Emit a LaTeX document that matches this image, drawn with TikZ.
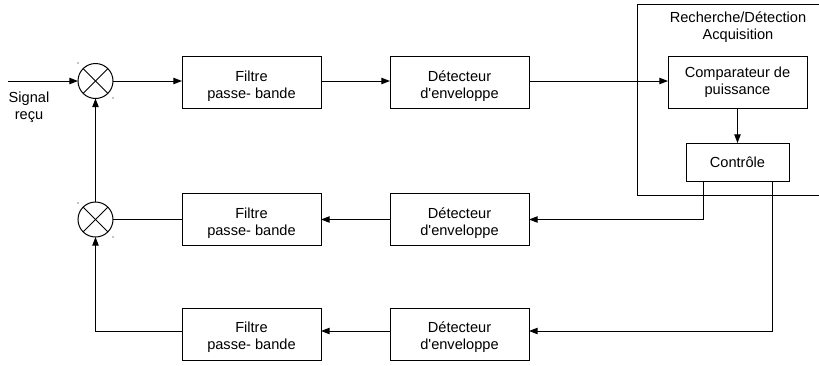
\documentclass[tikz,border=0pt]{standalone}
\usepackage{fontspec}
\setmainfont{Liberation Sans}
\usetikzlibrary{arrows.meta}
\newcommand{\deuxlignes}[2]{\rule{0pt}{12.8pt}#1\\#2}
\tikzset{
  bloc/.style={draw,minimum width=104.25pt,minimum height=39pt,align=center,inner sep=0pt,outer sep=0pt,font=\fontsize{10.95}{12.75}\selectfont},
  mixer/.style={draw,circle,minimum size=26.25pt,inner sep=0pt,outer sep=0pt,path picture={
      \draw (path picture bounding box.north west) -- (path picture bounding box.south east);
      \draw (path picture bounding box.north east) -- (path picture bounding box.south west);}},
  legende/.style={align=center,inner sep=0pt,font=\fontsize{10.95}{12.75}\selectfont},
  fleche/.style={-{Triangle[length=6.5pt,width=4.8pt]}}
}
\begin{document}
\begin{tikzpicture}[x=0.75pt,y=-0.75pt,line width=0.75pt]
      \useasboundingbox (0,0) rectangle (819,365);
      \draw (819,4) -- (637,4) -- (637,195) -- (819,195);
      \node[legende] (titre) at (738,27) {Recherche/Détection\\Acquisition};
      \node[mixer] (mixerA) at (95.5,81) {};
      \node[mixer] (mixerB) at (95.5,219.5) {};
      \node[bloc] (filtreA) at (251.5,82.5) {\deuxlignes{Filtre}{passe- bande}};
      \node[bloc] (filtreB) at (251.5,219.5) {\deuxlignes{Filtre}{passe- bande}};
      \node[bloc] (filtreC) at (251.5,334) {\deuxlignes{Filtre}{passe- bande}};
      \node[bloc] (detA) at (459.5,82.5) {\deuxlignes{Détecteur}{d\textquotesingle enveloppe}};
      \node[bloc] (detB) at (459.5,219.5) {\deuxlignes{Détecteur}{d\textquotesingle enveloppe}};
      \node[bloc] (detC) at (459.5,334) {\deuxlignes{Détecteur}{d\textquotesingle enveloppe}};
      \node[bloc] (comparateur) at (737.5,82.5) {Comparateur de\\puissance};
      \node[bloc,minimum width=77.25pt,minimum height=28.5pt] (controle) at (737.5,162) {Contrôle};
      \node[legende] (signal) at (29,107.5) {Signal\\reçu};
      \coordinate (entree) at (8,81);
      \coordinate (sortieA) at (703,181);
      \coordinate (sortieB) at (772,181);
      \coordinate (ligneC) at (0,331);
      % chaine du haut
      \draw[fleche] (entree) -- (mixerA);
      \draw[fleche] (mixerA) -- (mixerA -| filtreA.west);
      \draw[fleche] (filtreA.east |- mixerA) -- (detA.west |- mixerA);
      \draw[fleche] (detA.east |- mixerA) -- (comparateur.west |- mixerA);
      \draw[fleche] (comparateur) -- (controle);
      % retours
      \draw[fleche] (sortieA) |- (detB);
      \draw[fleche] (sortieB) |- (detC.east |- ligneC);
      \draw[fleche] (detB) -- (filtreB);
      \draw[fleche] (detC.west |- ligneC) -- (filtreC.east |- ligneC);
      \draw (filtreB) -- (mixerB);
      \draw[fleche] (filtreC.west |- ligneC) -| (mixerB);
      \draw[fleche] (mixerB) -- (mixerA);
      \foreach \x/\y in {78/63,113/98,78/203,113/237}
        \fill (\x,\y) circle (0.4pt);
    \end{tikzpicture}
\end{document}
